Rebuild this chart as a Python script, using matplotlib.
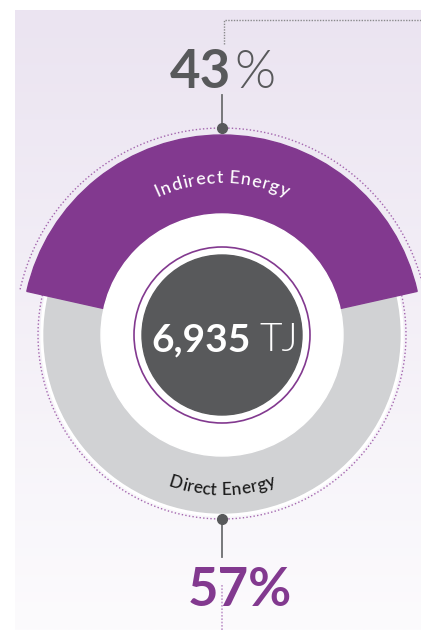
import numpy as np
import matplotlib
matplotlib.use("Agg")
import matplotlib.pyplot as plt
from matplotlib.patches import Wedge, Circle
from matplotlib.font_manager import FontProperties

# data
labels = ["Indirect Energy", "Direct Energy"]
shares = [43, 57]
total = 6935
unit = "TJ"

purple = "#82398f"
ring_grey = "#d1d2d4"
dark = "#58595b"
FONT = "Lato"

W, H = 421, 630
fig = plt.figure(figsize=(W / 100, H / 100), dpi=100)
ax = fig.add_axes([0, 0, 1, 1])

# soft lavender background panel
grad = np.linspace(0, 1, 256)[:, None, None]
top_c = np.array([235, 228, 241]) / 255
bot_c = np.array([252, 251, 253]) / 255
img = top_c + (bot_c - top_c) * grad
ax.imshow(img, extent=(15, W, 0, H - 10), aspect="auto", origin="upper", zorder=0)

ax.set_xlim(0, W)
ax.set_ylim(0, H)
ax.axis("off")

cx, cy = 222, 295

span0 = shares[0] / 100 * 360
t1, t2 = 90 - span0 / 2, 90 + span0 / 2

# white halo + grey ring (direct), purple wedge (indirect)
ax.add_patch(Wedge((cx, cy), 181, t2, t1 + 360, width=10, color="white", zorder=2))
ax.add_patch(Wedge((cx, cy), 178, t2, t1 + 360, width=57, color=ring_grey, zorder=3))
ax.add_patch(Wedge((cx, cy), 200, t1, t2, width=79, color=purple, zorder=3))

# centre
ax.add_patch(Circle((cx, cy), 121, color="white", zorder=4))
ax.add_patch(Circle((cx, cy), 88, fill=False, ec=purple, lw=1.2, zorder=5))
ax.add_patch(Circle((cx, cy), 80, color=dark, zorder=5))

# dotted outlines
th = np.radians(np.linspace(t1, t2, 300))
ax.plot(cx + 207 * np.cos(th), cy + 207 * np.sin(th), color="#a366ae",
        ls=(0, (1, 1.6)), lw=1, zorder=2)
th = np.radians(np.linspace(t2, t1 + 360, 300))
ax.plot(cx + 184 * np.cos(th), cy + 184 * np.sin(th), color="#a366ae",
        ls=(0, (1, 1.6)), lw=1, zorder=2)

# connectors
ax.plot([224, 224, W], [H - 44, H - 20, H - 20], color="#8a8a8c", ls=(0, (1, 1)), lw=1, zorder=2)
ax.plot([cx, cx], [H - 95, cy + 207], color="#6d6e70", lw=1.3, zorder=6)
ax.plot([cx, cx], [cy - 184, H - 557], color="#6d6e70", lw=1.3, zorder=6)
ax.plot(cx, cy + 207, "o", ms=7, color=dark, zorder=7)
ax.plot(cx, cy - 184, "o", ms=7, color=dark, zorder=7)
ax.plot([cx, cx], [H - 585, 0], color="#c29bcc", ls=(0, (1, 1)), lw=1.2, zorder=2)

renderer = fig.canvas.get_renderer()


def arc_text(s, r, theta_mid, on_top, color, size, weight="normal", track=0.0):
    prop = FontProperties(family=FONT, size=size, weight=weight)

    def width(t):
        return renderer.get_text_width_height_descent(t, prop, ismath=False)[0]

    n = len(s)
    full = width(s) + track * (n - 1)
    for i, ch in enumerate(s):
        if ch == " ":
            continue
        c = width(s[:i + 1]) - width(ch) / 2 + track * i - full / 2
        d = np.degrees(c / r)
        if on_top:
            a = theta_mid - d
            rot = a - 90
        else:
            a = theta_mid + d
            rot = a + 90
        ax.text(cx + r * np.cos(np.radians(a)), cy + r * np.sin(np.radians(a)), ch,
                rotation=rot, rotation_mode="anchor", ha="center", va="baseline",
                fontproperties=prop, color=color, zorder=8)


arc_text(labels[0], 152, 90, True, "white", 13, weight=500, track=0.8)
arc_text(labels[1], 160, 270, False, "#1a1a1a", 12.5, weight=500, track=0.4)

# numbers
ax.text(231, H - 88, f"{shares[0]}", ha="right", va="baseline", fontsize=38,
        fontweight="bold", family=FONT, color=dark, zorder=8)
ax.text(234, H - 88, "%", ha="left", va="baseline", fontsize=38,
        fontweight=300, family=FONT, color=dark, zorder=8)
ax.text(240, H - 606, f"{shares[1]}%", ha="center", va="baseline", fontsize=38,
        fontweight="bold", family=FONT, color=purple, zorder=8)
ax.text(251, cy - 16, f"{total:,}", ha="right", va="baseline", fontsize=28,
        fontweight="bold", family=FONT, color="white", zorder=8)
ax.text(259, cy - 16, unit, ha="left", va="baseline", fontsize=28,
        fontweight=300, family=FONT, color="white", zorder=8)

fig.savefig("out.png", dpi=100)
